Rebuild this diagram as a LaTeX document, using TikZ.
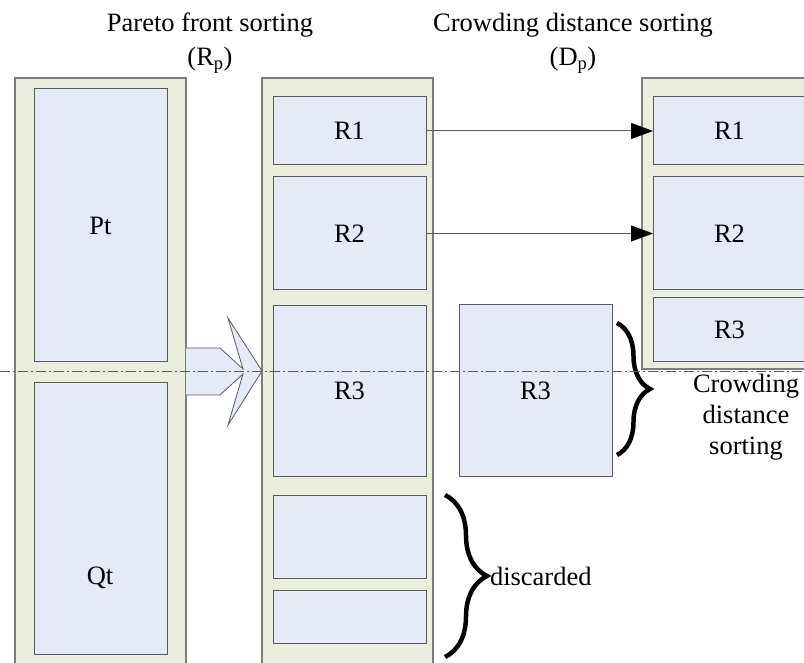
\documentclass[tikz,border=0pt]{standalone}
\usepackage{fontspec}
\setmainfont{Liberation Serif}
\usetikzlibrary{arrows.meta,decorations.pathreplacing}
\definecolor{colfill}{RGB}{235,238,222}
\definecolor{boxfill}{RGB}{228,235,247}
\definecolor{colline}{RGB}{125,125,125}
\definecolor{boxline}{RGB}{90,90,90}
\begin{document}
\begin{tikzpicture}[x=1pt,y=-1pt,
        every node/.style={font=\fontsize{26.5}{34}\selectfont, inner sep=0pt, outer sep=0pt},
        colbox/.style={draw=colline, fill=colfill, line width=1.5pt, anchor=north west, minimum width=171pt},
        inbox/.style={draw=boxline, fill=boxfill, line width=1pt, anchor=north west, minimum width=153pt},
        fatarrow/.style={draw=boxline, fill=boxfill, line width=0.8pt},
        link/.style={draw=boxline, line width=1pt, -{Triangle[length=22pt,width=16pt,color=black,fill=black]}},
        curly/.style={decorate, decoration={brace, amplitude=#1}, line width=4.5pt},
        cut/.style={draw=boxline, line width=0.8pt, dash pattern=on 10pt off 3pt on 2pt off 3pt}]
    \useasboundingbox (0,0) rectangle (804,663);
    \node[align=center] (ptitle) at (210,43) {Pareto front sorting\\(R\textsubscript{p})};
    \node[align=center] (dtitle) at (573,43) {Crowding distance sorting\\(D\textsubscript{p})};
    \node[colbox, minimum height=600pt] (leftcol) at (15,78) {};
    \node[colbox, minimum height=600pt] (midcol) at (262,78) {};
    \node[colbox, minimum height=291pt] (rightcol) at (642,78) {};
    \node[inbox, minimum width=133pt, minimum height=273pt] (pt) at (34,89) {Pt};
    \node[inbox, minimum width=133pt, minimum height=272pt] (qt) at (34,382) {};
    \node (qtlabel) at (100,578) {Qt};
    \node[inbox, minimum height=68pt] (r1m) at (273,97) {R1};
    \node[inbox, minimum height=113pt] (r2m) at (273,177) {R2};
    \node[inbox, minimum height=170pt] (r3m) at (273,306) {R3};
    \node[inbox, minimum height=83pt] (e1m) at (273,495) {};
    \node[inbox, minimum height=53pt] (e2m) at (273,590) {};
    \node[inbox, minimum height=171pt] (r3s) at (459,305) {R3};
    \node[inbox, minimum height=68pt] (r1r) at (653,97) {R1};
    \node[inbox, minimum height=113pt] (r2r) at (653,177) {R2};
    \node[inbox, minimum height=64pt] (r3r) at (653,298) {R3};
    \filldraw[fatarrow] (186,348) -- (220,348) -- (243,369) -- (228,318) -- (262,371)
        -- (228,425) -- (243,374) -- (220,395) -- (186,395);
    \draw[link] (r1m.east) -- (r1r.west);
    \draw[link] (r2m.east) -- (r2r.west);
    \coordinate (b1top) at (617,323);
    \coordinate (b1bot) at (617,455);
    \coordinate (b2top) at (445,495);
    \coordinate (b2bot) at (445,657);
    \draw[curly=33pt] (b1top) -- (b1bot);
    \draw[curly=42pt] (b2top) -- (b2bot);
    \node[anchor=west] (disc) at (490,576) {discarded};
    \node[align=center, font=\fontsize{26.5}{31}\selectfont] (cdsort) at (746,417) {Crowding\\distance\\sorting};
    \coordinate (cutl) at (0,371);
    \coordinate (cutr) at (804,371);
    \draw[cut] (cutl) -- (cutr);
\end{tikzpicture}
\end{document}
